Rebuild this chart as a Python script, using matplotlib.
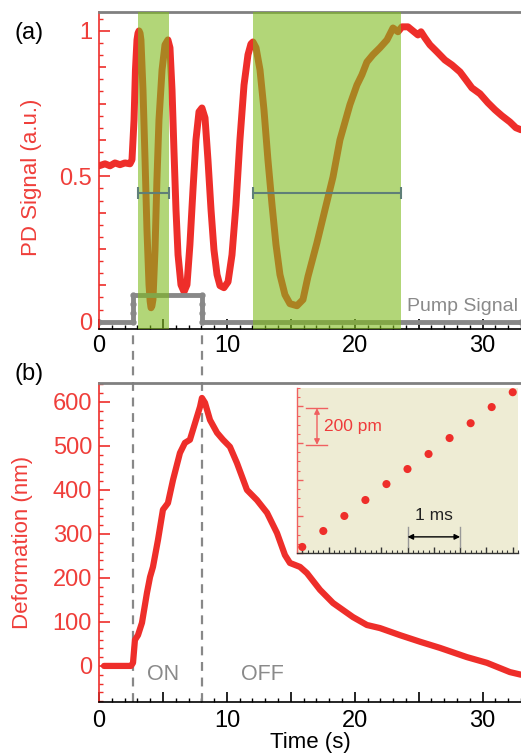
import matplotlib
matplotlib.use('Agg')
import matplotlib.pyplot as plt
from matplotlib.ticker import MultipleLocator, FixedLocator, FuncFormatter

plt.rcParams['font.family'] = ['Liberation Sans', 'DejaVu Sans']

RED = '#ee2e2a'
RED_T = '#ef3e3a'
GRAY = '#8a8a8a'
GREEN = '#7fbb1e'
ERR = '#5f7f78'

# ---------------- data: panel (a) PD signal ----------------
pd_t = [0.00, 0.47, 0.86, 1.25, 1.64, 2.03, 2.42, 2.58, 2.74, 2.85, 2.97, 3.05, 3.13, 3.21, 3.28,
        3.44, 3.60, 3.75, 3.91, 4.00, 4.07, 4.14, 4.22, 4.38, 4.53, 4.69, 4.93, 5.16, 5.39, 5.55,
        5.71, 5.86, 6.02, 6.18, 6.41, 6.65, 6.88, 7.11, 7.35, 7.58, 7.82, 8.05, 8.29,
        8.52, 8.76, 8.99, 9.23, 9.46, 9.77, 10.09, 10.40, 10.71, 11.02, 11.34, 11.65,
        11.88, 12.04, 12.28, 12.59, 12.90, 13.21, 13.53, 13.84, 14.15, 14.54, 14.93,
        15.48, 15.95, 16.34, 17.04, 17.67, 18.30, 18.84, 19.62, 20.17, 20.56, 20.95,
        21.42, 21.97, 22.52, 22.99, 23.38, 23.69, 24.16, 24.55, 24.94, 25.18, 25.49,
        25.88, 26.43, 27.05, 27.60, 28.23, 28.69, 29.16, 29.79, 30.41, 30.96, 31.51,
        32.13, 32.60, 33.00]
pd_v = [0.536, 0.543, 0.536, 0.546, 0.540, 0.546, 0.543, 0.557, 0.694, 0.866, 0.969, 0.992,
        1.000, 0.992, 0.969, 0.797, 0.557, 0.316, 0.127, 0.070, 0.048, 0.055, 0.076, 0.247,
        0.488, 0.694, 0.866, 0.952, 0.969, 0.942, 0.797, 0.591, 0.385, 0.230, 0.127, 0.103,
        0.127, 0.265, 0.454, 0.625, 0.722, 0.735, 0.701, 0.557, 0.385, 0.247, 0.162, 0.124,
        0.117, 0.137, 0.230, 0.402, 0.625, 0.814, 0.918, 0.955, 0.962, 0.942, 0.866,
        0.729, 0.557, 0.402, 0.265, 0.162, 0.093, 0.062, 0.055, 0.076, 0.155, 0.271,
        0.385, 0.498, 0.625, 0.746, 0.814, 0.849, 0.893, 0.918, 0.942, 0.969, 1.010,
        0.997, 1.014, 1.014, 1.000, 0.986, 0.997, 0.976, 0.952, 0.928, 0.900, 0.883,
        0.859, 0.832, 0.804, 0.784, 0.753, 0.729, 0.708, 0.687, 0.667, 0.660]

pump_t = [0.0, 2.66, 2.66, 2.66, 2.66, 8.05, 8.05, 8.05, 8.05, 33.0]
pump_v = [0.0, 0.0, 0.031, 0.062, 0.093, 0.093, 0.062, 0.031, 0.0, 0.0]

green_start = [3.05, 12.04]
green_end = [5.47, 23.61]
err_level = 0.443

on_t = 2.66
off_t = 8.05

# ---------------- data: panel (b) deformation ----------------
def_t = [0.39, 2.50, 2.66, 2.81, 3.05, 3.36, 3.75, 3.99, 4.22, 4.61, 5.00, 5.39, 5.79,
         6.33, 6.72, 7.11, 7.51, 7.90, 8.05, 8.29, 8.68, 9.23, 9.70, 10.24, 10.79,
         11.57, 12.35, 13.14, 13.92, 14.54, 14.93, 15.72, 16.26, 17.28, 18.30, 19.86,
         20.95, 21.97, 23.53, 25.10, 26.66, 28.77, 30.34, 32.13, 33.00]
def_v = [0, 0, 7, 59, 70, 98, 166, 202, 225, 286, 355, 370, 423, 484, 507, 514, 552,
         589, 609, 598, 559, 530, 514, 498, 461, 400, 377, 348, 302, 252, 234, 225,
         211, 173, 143, 111, 93, 86, 70, 55, 41, 20, 7, -14, -20]

# ---------------- data: inset ----------------
inset_t = [0.0, 0.4, 0.8, 1.2, 1.6, 2.0, 2.4, 2.8, 3.2, 3.6, 4.0]
inset_v = [33, 120, 202, 289, 376, 458, 540, 627, 708, 796, 877]

xticks_lab = [0, 10, 20, 30]

W, H = 521, 755
fig = plt.figure(figsize=(W / 100, H / 100), dpi=100)
axa = fig.add_axes([99 / W, 1 - 329 / H, 422 / W, 317 / H])
axb = fig.add_axes([99 / W, 1 - 702 / H, 422 / W, 319 / H])
axi = fig.add_axes([297 / W, 1 - 553 / H, 221 / W, 165 / H])

FS = 16
TFS = 17


def xfmt(v, pos):
    return '%d' % round(v) if round(v) in xticks_lab and abs(v - round(v)) < 1e-6 else ''


def style_main(ax):
    ax.set_xlim(0, 33)
    ax.spines['right'].set_visible(False)
    ax.spines['top'].set_color('#808080')
    ax.spines['top'].set_linewidth(2)
    ax.spines['left'].set_color(RED)
    ax.spines['left'].set_linewidth(1.2)
    ax.spines['bottom'].set_color('black')
    ax.spines['bottom'].set_linewidth(1.2)
    ax.xaxis.set_major_locator(MultipleLocator(5))
    ax.xaxis.set_minor_locator(MultipleLocator(1))
    ax.xaxis.set_major_formatter(FuncFormatter(xfmt))
    ax.tick_params(axis='x', which='major', direction='in', length=7, width=1.2,
                   labelsize=TFS, top=False, colors='black')
    ax.tick_params(axis='x', which='minor', direction='in', length=3, width=1.0, top=False)
    ax.tick_params(axis='y', which='both', direction='in', colors=RED, labelcolor=RED_T,
                   labelsize=TFS, right=False, pad=5)
    ax.tick_params(axis='y', which='minor', length=3, width=1.0)


# ---------------- panel (a) ----------------
style_main(axa)
axa.set_ylim(-0.025, 1.065)
axa.plot(pd_t, pd_v, color=RED, lw=5, solid_joinstyle='round', solid_capstyle='round', zorder=2)
axa.plot(pump_t, pump_v, color='#888888', lw=3.5, marker='o', ms=3.5, zorder=2)
for a, b in zip(green_start, green_end):
    axa.axvspan(a, b, color=GREEN, alpha=0.6, lw=0, zorder=3)
    axa.errorbar((a + b) / 2, err_level, xerr=(b - a) / 2, fmt='none', ecolor=ERR,
                 elinewidth=1.5, capsize=4, capthick=1.5, zorder=4)
axa.text(32.8, 0.052, 'Pump Signal', color=GRAY, fontsize=14, ha='right', va='center', zorder=5)

ymaj = [i * 0.125 for i in range(9)]
axa.yaxis.set_major_locator(FixedLocator(ymaj))
axa.yaxis.set_minor_locator(MultipleLocator(0.125 / 3))
axa.yaxis.set_major_formatter(FuncFormatter(
    lambda v, p: {0.0: '0', 0.5: '0.5', 1.0: '1'}.get(round(v, 3), '')))
axa.tick_params(axis='y', which='major', length=5, width=1.2)
for tk, v in zip(axa.yaxis.get_major_ticks(), ymaj):
    if v in (0.0, 0.5, 1.0):
        tk.tick1line.set_markersize(8)
axa.tick_params(axis='x', which='major', pad=4)
axa.set_ylabel('PD Signal (a.u.)', color=RED_T, fontsize=FS)
axa.yaxis.set_label_coords(-0.135, 0.48)

# ---------------- panel (b) ----------------
style_main(axb)
axb.set_ylim(-82, 643)
axb.plot(def_t, def_v, color=RED, lw=4.5, solid_joinstyle='round', solid_capstyle='round', zorder=3)
for tx in (on_t, off_t):
    axb.axvline(tx, ymin=0, ymax=1.167, color='#888888', ls=(0, (4, 3)), lw=1.6,
                clip_on=False, zorder=2)
axb.yaxis.set_major_locator(MultipleLocator(100))
axb.yaxis.set_minor_locator(MultipleLocator(20))
axb.tick_params(axis='y', which='major', length=8, width=1.2)
axb.tick_params(axis='x', which='major', pad=6)
axb.text(5.04, -20, 'ON', color=GRAY, fontsize=15.5, ha='center', va='center')
axb.text(12.8, -20, 'OFF', color=GRAY, fontsize=15.5, ha='center', va='center')
axb.set_ylabel('Deformation (nm)', color=RED_T, fontsize=FS)
axb.yaxis.set_label_coords(-0.156, 0.5)
axb.set_xlabel('Time (s)', fontsize=FS, labelpad=0)

# ---------------- inset ----------------
axi.set_facecolor('#eeecd4')
axi.set_xlim(-0.1, 4.1)
axi.set_ylim(0, 900)
axi.scatter(inset_t, inset_v, s=34, color=RED, edgecolors='none', zorder=3)
for sp in ('top', 'right'):
    axi.spines[sp].set_visible(False)
axi.spines['left'].set_color('#f06060')
axi.spines['left'].set_linewidth(1.0)
axi.spines['bottom'].set_color('#333333')
axi.spines['bottom'].set_linewidth(1.0)
axi.xaxis.set_major_locator(MultipleLocator(0.5))
axi.xaxis.set_minor_locator(MultipleLocator(0.1))
axi.yaxis.set_major_locator(MultipleLocator(200))
axi.yaxis.set_minor_locator(MultipleLocator(50))
axi.tick_params(axis='both', which='both', direction='in', labelbottom=False, labelleft=False)
axi.tick_params(axis='x', which='major', length=4, width=1.0, colors='#333333')
axi.tick_params(axis='x', which='minor', length=2, width=0.8, colors='#333333')
axi.tick_params(axis='y', which='major', length=4, width=1.0, colors='#f06060')
axi.tick_params(axis='y', which='minor', length=2, width=0.8, colors='#f06060')

# 200 pm bracket
axi.plot([0.07, 0.47], [790, 790], color='#f06060', lw=1.0)
axi.plot([0.07, 0.47], [590, 590], color='#f06060', lw=1.0)
axi.annotate('', xy=(0.28, 790), xytext=(0.28, 590),
             arrowprops=dict(arrowstyle='<|-|>', color='#f06060', lw=1.0,
                             shrinkA=0, shrinkB=0, mutation_scale=8))
axi.text(0.42, 690, '200 pm', color='#ee3b3b', fontsize=12.5, ha='left', va='center')
# 1 ms bar
axi.plot([2.0, 2.0], [35, 142], color='#999999', lw=1.0)
axi.plot([3.0, 3.0], [35, 142], color='#999999', lw=1.0)
axi.annotate('', xy=(2.0, 88), xytext=(3.0, 88),
             arrowprops=dict(arrowstyle='<|-|>', color='black', lw=1.0,
                             shrinkA=0, shrinkB=0, mutation_scale=8))
axi.text(2.5, 205, '1 ms', color='#222222', fontsize=12.5, ha='center', va='center')

fig.text(29 / W, 1 - 33 / H, '(a)', fontsize=17, ha='center', va='center')
fig.text(29 / W, 1 - 374 / H, '(b)', fontsize=17, ha='center', va='center')

fig.savefig('out.png', dpi=100)
